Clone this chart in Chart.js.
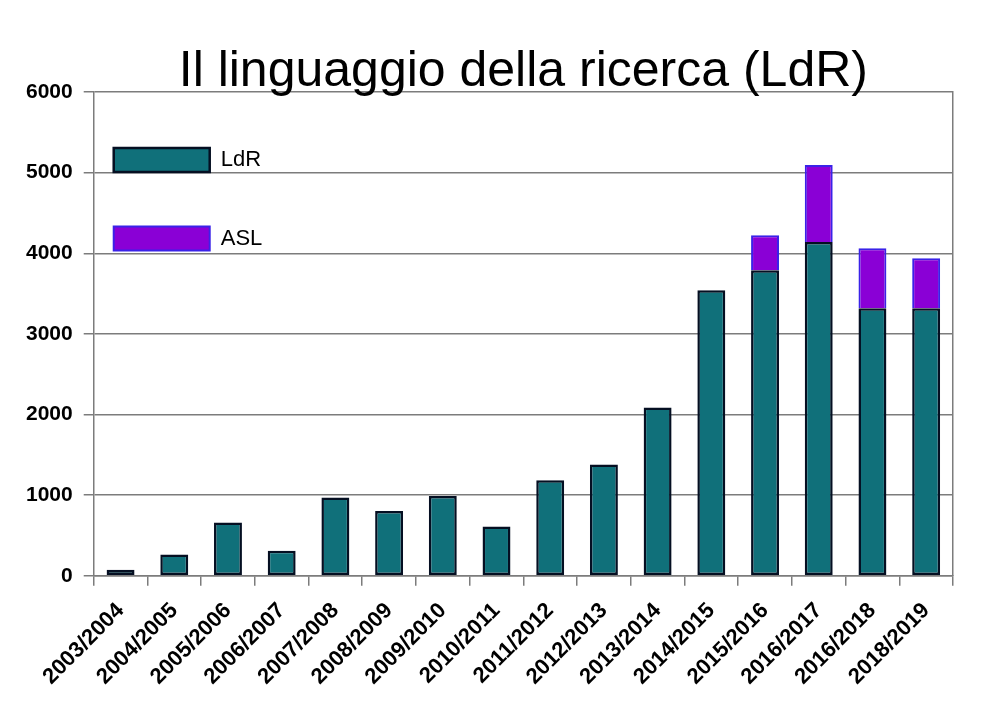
<!DOCTYPE html>
<html>
<head>
<meta charset="utf-8">
<script src="https://cdn.jsdelivr.net/npm/chart.js@4.4.1/dist/chart.umd.min.js"></script>
<style>
  html, body { margin: 0; padding: 0; background: #ffffff; }
  #wrap { width: 1000px; height: 722px; }
</style>
</head>
<body>
<div id="wrap"><canvas id="ldrChart" width="1000" height="722"></canvas></div>
<script>
// ============================== DATA ==============================
const anni = ['2003/2004', '2004/2005', '2005/2006', '2006/2007', '2007/2008', '2008/2009',
              '2009/2010', '2010/2011', '2011/2012', '2012/2013', '2013/2014', '2014/2015',
              '2015/2016', '2016/2017', '2016/2018', '2018/2019'];
const ldrValori = [75, 265, 660, 310, 970, 805, 990, 612, 1185, 1380, 2088, 3540, 3790, 4140, 3318, 3318];
const aslValori = [0, 0, 0, 0, 0, 0, 0, 0, 0, 0, 0, 0, 432, 955, 745, 620];
const yTicks = [0, 1000, 2000, 3000, 4000, 5000, 6000];

const grigio = '#7c7c7c';

// ============================== CHART ==============================
function createChart() {
    const ctx = document.getElementById('ldrChart').getContext('2d');
    return new Chart(ctx, {
        type: 'bar',
        data: {
            labels: anni,
            datasets: [
                { label: 'LdR', data: ldrValori, backgroundColor: '#10707a', borderColor: '#050f22',
                  borderWidth: 2.5, borderSkipped: false },
                { label: 'ASL', data: aslValori, backgroundColor: '#8a00d6', borderColor: '#3a22e8',
                  borderWidth: 2, borderSkipped: 'bottom' }
            ]
        },
        options: {
            responsive: false,
            animation: false,
            layout: { padding: { left: 15, right: 47, top: 0, bottom: 20 } },
            datasets: { bar: { categoryPercentage: 1, barPercentage: 0.52 } },
            plugins: {
                title: {
                    display: true,
                    fullSize: false,
                    text: 'Il linguaggio della ricerca (LdR)',
                    color: '#000',
                    font: { family: 'Liberation Sans', size: 50, weight: 'normal', lineHeight: 0.8 },
                    padding: { top: 52, bottom: 0 }
                },
                legend: {
                    position: 'chartArea',
                    align: 'start',
                    // the legend box starts at the canvas top here, so the empty title pushes the entries down
                    title: { display: true, text: '', padding: { top: 92, bottom: 0 }, font: { size: 36, lineHeight: 1 } },
                    labels: {
                        boxWidth: 96,
                        boxHeight: 24,
                        padding: 20,
                        color: '#000',
                        font: { family: 'Liberation Sans', size: 22, lineHeight: 1.33 },
                        // extra empty line to open up the space between the two entries
                        generateLabels: (chart) => Chart.defaults.plugins.legend.labels.generateLabels(chart)
                            .map(item => Object.assign(item, { text: [item.text, ''] }))
                    }
                },
                tooltip: { enabled: false }
            },
            scales: {
                x: {
                    stacked: true,
                    grid: { drawOnChartArea: false, drawTicks: true, tickLength: 10, color: grigio, lineWidth: 1.5 },
                    border: { display: true, color: grigio, width: 1.5 },
                    ticks: {
                        color: '#000', minRotation: 45, maxRotation: 45, padding: 12,
                        font: { family: 'Liberation Sans', size: 22, weight: 'bold' }
                    }
                },
                y: {
                    stacked: true,
                    min: 0,
                    max: 6000,
                    afterBuildTicks: (axis) => { axis.ticks = yTicks.map(v => ({ value: v })); },
                    grid: { color: grigio, lineWidth: 1.5, tickLength: 10 },
                    border: { display: true, color: grigio, width: 1.5 },
                    ticks: {
                        color: '#000', padding: 11,
                        callback: (v) => String(v),
                        font: { family: 'Liberation Sans', size: 21, weight: 'bold' }
                    }
                },
                y2: {
                    position: 'right',
                    min: 0,
                    max: 6000,
                    grid: { drawOnChartArea: false, drawTicks: false },
                    border: { display: true, color: grigio, width: 1.5 },
                    ticks: { display: false }
                }
            }
        }
    });
}

window.addEventListener('DOMContentLoaded', () => {
    createChart();
});
</script>
</body>
</html>
